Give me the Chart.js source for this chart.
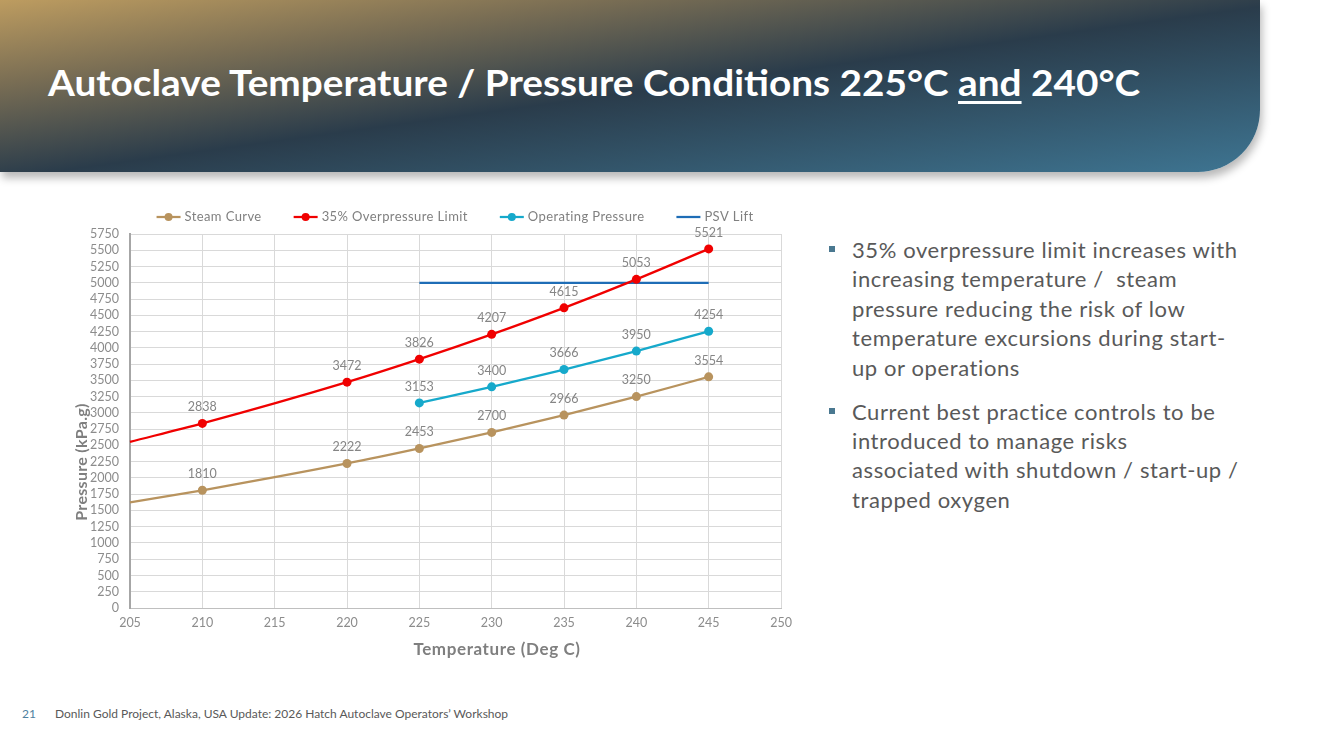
<!DOCTYPE html>
<html>
<head>
<meta charset="utf-8">
<script src="https://cdn.jsdelivr.net/npm/chart.js@4/dist/chart.umd.min.js"></script>
<style>
  body { margin: 0; width: 1333px; height: 749px; background: #fff; overflow: hidden; position: relative; font-family: Lato, "Open Sans", sans-serif; }
  #header {
    position: absolute; left: 0; top: 0; width: 1260px; height: 172px;
    border-bottom-right-radius: 62px;
    background: linear-gradient(to bottom right, #bd9c60 0%, #7a6e54 24%, #2a3c4b 52%, #3e7592 100%);
    box-shadow: 2px 6px 9px rgba(0,0,0,0.28);
  }
  #title {
    position: absolute; left: 48px; top: 63px; color: #fff; font-weight: bold;
    font-size: 37px; line-height: 1; white-space: nowrap; transform-origin: 0 0;
  }
  #title u { text-decoration-thickness: 3px; text-underline-offset: 5px; }
  #chartBox { position: absolute; left: 60px; top: 195px; width: 740px; height: 480px; }
  .bullets { position: absolute; left: 852px; top: 235px; color: #595959; font-size: 22px; letter-spacing: 0.6px; line-height: 29.4px; white-space: nowrap; }
  .bullets p { margin: 0 0 14.6px 0; position: relative; }
  .bullets p::before { content: ""; position: absolute; left: -23px; top: 11px; width: 6px; height: 6px; background: #4a7890; }
  #footer { position: absolute; top: 706px; left: 22px; font-size: 12px; color: #595959; white-space: nowrap; }
  #footer span { color: #4f81a0; margin-right: 19px; }
</style>
</head>
<body>
<div id="header"><div id="title">Autoclave Temperature / Pressure Conditions 225°C <u>and</u> 240°C</div></div>
<div id="chartBox"><canvas id="pressureChart" width="740" height="480"></canvas></div>
<div class="bullets">
  <p>35% overpressure limit increases with<br>increasing temperature /&nbsp; steam<br>pressure reducing the risk of low<br>temperature excursions during start-<br>up or operations</p>
  <p>Current best practice controls to be<br>introduced to manage risks<br>associated with shutdown / start-up /<br>trapped oxygen</p>
</div>
<div id="footer"><span>21</span>Donlin Gold Project, Alaska, USA Update: 2026 Hatch Autoclave Operators’ Workshop</div>

<script>
// squeeze the title to the width it has on the slide
var title = document.getElementById('title');
title.style.transform = 'scaleX(' + (1092 / title.scrollWidth) + ')';

// data (205 values are where the curves enter the plot, no marker)
var temps = [205, 210, 220, 225, 230, 235, 240, 245];
var steamCurve = [1625, 1810, 2222, 2453, 2700, 2966, 3250, 3554];
var overLimit = [2555, 2838, 3472, 3826, 4207, 4615, 5053, 5521];
var opTemps = [225, 230, 235, 240, 245];
var opPressure = [3153, 3400, 3666, 3950, 4254];
var psvTemps = [225, 245];
var psvLift = [5000, 5000];
var xTicks = [205, 210, 215, 220, 225, 230, 235, 240, 245, 250];

function pts(xs, ys) {
  return xs.map(function (x, i) { return { x: x, y: ys[i] }; });
}
function radii(xs) {
  return xs.map(function (x) { return x === 205 ? 0 : 4.5; });
}

var FONT = 'Lato, "Open Sans", sans-serif';
var GREY = '#8c8c8c';

var valueLabels = {
  id: 'valueLabels',
  afterDatasetsDraw: function (chart) {
    var ctx = chart.ctx;
    ctx.save();
    ctx.font = '12.5px ' + FONT;
    ctx.fillStyle = '#858585';
    ctx.textAlign = 'center';
    ctx.textBaseline = 'bottom';
    chart.data.datasets.forEach(function (ds, i) {
      if (!ds.showLabels) return;
      chart.getDatasetMeta(i).data.forEach(function (pt, j) {
        if (ds.pointRadius[j] === 0) return;
        ctx.fillText(ds.data[j].y, pt.x, pt.y - 10);
      });
    });
    ctx.restore();
  }
};

var legendAndTitles = {
  id: 'legendAndTitles',
  afterDraw: function (chart) {
    var ctx = chart.ctx;
    ctx.save();
    ctx.font = '13px ' + FONT;
    ctx.letterSpacing = '0.4px';
    var items = chart.data.datasets;
    var widths = items.map(function (d) { return 28 + ctx.measureText(d.label).width; });
    var total = widths.reduce(function (a, b) { return a + b; }, 0) + 32 * (items.length - 1);
    var x = 395 - total / 2;
    var y = 22;
    items.forEach(function (d, i) {
      ctx.strokeStyle = d.borderColor;
      ctx.lineWidth = 2.25;
      ctx.beginPath(); ctx.moveTo(x, y); ctx.lineTo(x + 24, y); ctx.stroke();
      if (d.legendDot) {
        ctx.fillStyle = d.borderColor;
        ctx.beginPath(); ctx.arc(x + 12, y, 4, 0, Math.PI * 2); ctx.fill();
      }
      ctx.fillStyle = '#808080';
      ctx.textAlign = 'left';
      ctx.textBaseline = 'middle';
      ctx.fillText(d.label, x + 28, y);
      x += widths[i] + 32;
    });

    ctx.fillStyle = '#7f7f7f';
    ctx.font = 'bold 17px ' + FONT;
    ctx.letterSpacing = '0.6px';
    ctx.textAlign = 'center';
    ctx.textBaseline = 'middle';
    ctx.fillText('Temperature (Deg C)', 437, 455);
    ctx.font = 'bold 16px ' + FONT;
    ctx.letterSpacing = '0.3px';
    ctx.translate(22, 267);
    ctx.rotate(-Math.PI / 2);
    ctx.fillText('Pressure (kPa.g)', 0, 0);
    ctx.restore();
  }
};

new Chart(document.getElementById('pressureChart'), {
  type: 'line',
  data: {
    datasets: [{
      label: 'Steam Curve',
      data: pts(temps, steamCurve),
      borderColor: '#b8935e', backgroundColor: '#b8935e',
      pointRadius: radii(temps), showLabels: true, legendDot: true
    }, {
      label: '35% Overpressure Limit',
      data: pts(temps, overLimit),
      borderColor: '#f00000', backgroundColor: '#f00000',
      pointRadius: radii(temps), showLabels: true, legendDot: true
    }, {
      label: 'Operating Pressure',
      data: pts(opTemps, opPressure),
      borderColor: '#16a9cb', backgroundColor: '#16a9cb',
      pointRadius: radii(opTemps), showLabels: true, legendDot: true
    }, {
      label: 'PSV Lift',
      data: pts(psvTemps, psvLift),
      borderColor: '#1e6db6', backgroundColor: '#1e6db6',
      pointRadius: [0, 0], showLabels: false, legendDot: false
    }]
  },
  options: {
    responsive: false,
    animation: false,
    devicePixelRatio: 1,
    clip: false,
    elements: {
      line: { borderWidth: 2.25, tension: 0.3, cubicInterpolationMode: 'monotone' },
      point: { borderWidth: 0, hoverRadius: 4.5 }
    },
    layout: { padding: { top: 39, right: 19, left: 0, bottom: 0 } },
    plugins: { legend: { display: false }, tooltip: { enabled: false } },
    scales: {
      x: {
        type: 'linear', min: 205, max: 250,
        afterBuildTicks: function (s) { s.ticks = xTicks.map(function (v) { return { value: v }; }); },
        afterFit: function (s) { s.height = 67; },
        ticks: { color: GREY, font: { family: FONT, size: 12.5 }, padding: 7, autoSkip: false, maxRotation: 0,
                 callback: function (v) { return String(v); } },
        grid: { color: '#d9d9d9', drawTicks: false },
        border: { color: '#bfbfbf', width: 1 }
      },
      y: {
        min: 0, max: 5750,
        afterFit: function (s) { s.width = 70; },
        ticks: { stepSize: 250, color: GREY, font: { family: FONT, size: 12.5 }, padding: 11, autoSkip: false,
                 callback: function (v) { return String(v); } },
        grid: { color: '#d9d9d9', drawTicks: false },
        border: { color: '#a6a6a6', width: 2 }
      }
    }
  },
  plugins: [valueLabels, legendAndTitles]
});
</script>
</body>
</html>
